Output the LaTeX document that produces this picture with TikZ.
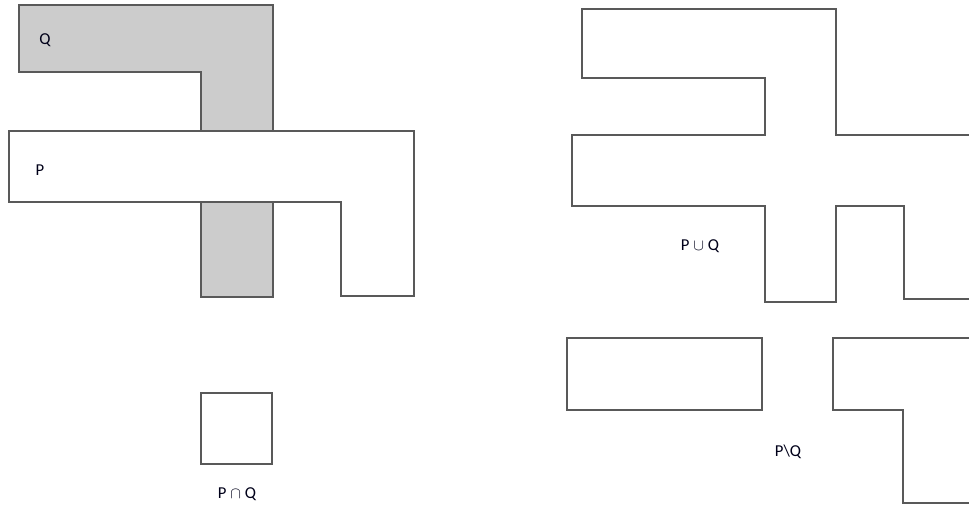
\documentclass[tikz,border=0pt]{standalone}
\usepackage{fontspec}
\setmainfont{Carlito}
\begin{document}
\begin{tikzpicture}[x=0.75pt,y=-0.75pt,
  outline/.style={draw=black!65, line width=1pt, line join=miter},
  qfill/.style={outline, fill=black!20},
  pfill/.style={outline, fill=white},
  lbl/.style={font=\fontsize{12.5}{14}\selectfont, text=black!90!blue, inner sep=0pt}]
\useasboundingbox (0,0) rectangle (969,506);
\clip (0,0) rectangle (969,506);
% Left: Q and P
\draw[qfill] (19,5) -- (273,5) -- (273,297) -- (201,297) -- (201,72) -- (19,72) -- cycle;
\draw[pfill] (9,131) -- (414,131) -- (414,296) -- (341,296) -- (341,202) -- (9,202) -- cycle;
\node[lbl] (lq) at (45,40) {Q};
\node[lbl] (lp) at (40,170) {P};
% Intersection
\draw[outline] (201,393) rectangle (272,464);
\node[lbl] (li) at (237,494) {P $\cap$ Q};
% Union
\draw[outline] (582,9) -- (836,9) -- (836,135) -- (980,135) -- (980,299) -- (904,299) -- (904,206)
  -- (836,206) -- (836,302) -- (765,302) -- (765,206) -- (572,206) -- (572,135) -- (765,135)
  -- (765,78) -- (582,78) -- cycle;
\node[lbl] (lu) at (700,246) {P $\cup$ Q};
% Difference
\draw[outline] (567,338) rectangle (762,410);
\draw[outline] (980,338) -- (833,338) -- (833,410) -- (903,410) -- (903,503) -- (980,503);
\node[lbl] (ld) at (788,452) {P\textbackslash Q};
\end{tikzpicture}
\end{document}
